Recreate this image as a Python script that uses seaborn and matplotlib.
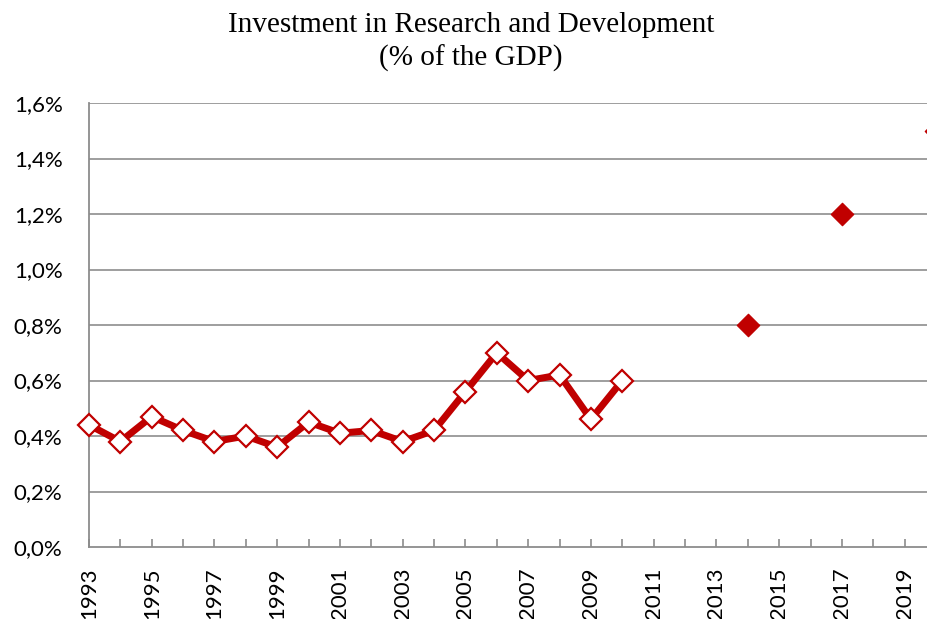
import matplotlib
matplotlib.use("Agg")
import matplotlib.pyplot as plt
import seaborn as sns
import pandas as pd
import numpy as np
from matplotlib.ticker import FuncFormatter

years = [1993, 1994, 1995, 1996, 1997, 1998, 1999, 2000, 2001, 2002,
         2003, 2004, 2005, 2006, 2007, 2008, 2009, 2010]
values = [0.44, 0.38, 0.47, 0.42, 0.38, 0.40, 0.36, 0.45, 0.41, 0.42,
          0.38, 0.42, 0.56, 0.70, 0.60, 0.62, 0.46, 0.60]
target_years = [2014, 2017, 2020]
target_values = [0.80, 1.20, 1.50]
yticks = [0.0, 0.2, 0.4, 0.6, 0.8, 1.0, 1.2, 1.4, 1.6]
xtick_years = list(range(1993, 2021))

hist = pd.DataFrame({"year": years, "value": values})
targ = pd.DataFrame({"year": target_years, "value": target_values})

sns.set_theme(style="white")
red = "#C00000"

fig = plt.figure(figsize=(9.28, 6.19), dpi=100)
ax = fig.add_axes([89/928, 1-547/619, 847/928, (547-103)/619])

for yv in yticks[1:]:
    ax.axhline(yv, color="#969696", lw=1.3, zorder=0)

sns.lineplot(data=hist, x="year", y="value", ax=ax, color=red, lw=5,
             marker="D", markersize=11, markerfacecolor="white",
             markeredgecolor=red, markeredgewidth=1.6, zorder=3, clip_on=False)
sns.scatterplot(data=targ, x="year", y="value", ax=ax, color=red,
                marker="D", s=130, edgecolor=red, zorder=3, clip_on=True)

ax.set_xlim(1993, 2020)
ax.set_ylim(0, 1.6)
ax.set_yticks(yticks)
ax.yaxis.set_major_formatter(FuncFormatter(lambda v, p: f"{v:.1f}%".replace(".", ",")))
ax.set_xticks(xtick_years)
ax.set_xticklabels([str(y) if (y - 1993) % 2 == 0 else "" for y in xtick_years],
                   rotation=90)
ax.set_xlabel("")
ax.set_ylabel("")

for s in ["top", "right"]:
    ax.spines[s].set_visible(False)
for s in ["left", "bottom"]:
    ax.spines[s].set_color("#8c8c8c")
    ax.spines[s].set_linewidth(1.3)

ax.tick_params(axis="x", direction="in", length=6, width=1.2, color="#8c8c8c",
               bottom=True, pad=15, labelsize=16)
ax.tick_params(axis="y", length=0, pad=19, labelsize=16)
for lab in ax.get_xticklabels() + ax.get_yticklabels():
    lab.set_fontfamily("Lato")
    lab.set_color("black")

fig.text(471/928, 1-42/619, "Investment in Research and Development\n(% of the GDP)",
         ha="center", va="center", fontsize=21, family="Liberation Serif",
         linespacing=1.3, color="black")

fig.savefig("out.png", dpi=100)
